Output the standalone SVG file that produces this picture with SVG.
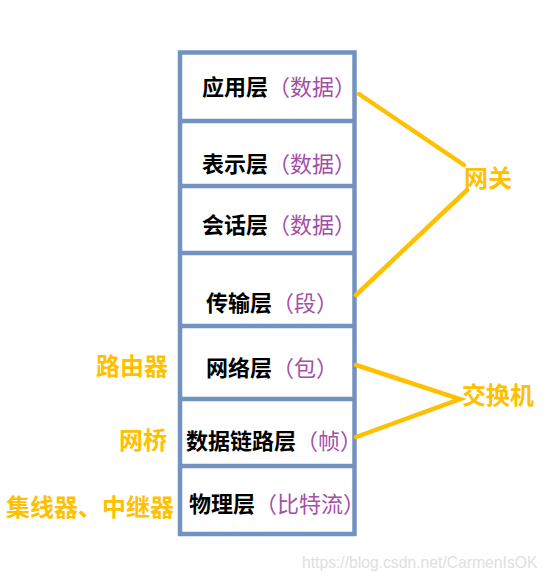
<svg xmlns="http://www.w3.org/2000/svg" width="547" height="582" viewBox="0 0 547 582">
  <style>
    .frame { fill: none; stroke: #7292c0; stroke-width: 4.5; }
    .div { stroke: #7292c0; stroke-width: 4.5; }
    .layer { font-family: "Noto Sans CJK SC", "Noto Sans", sans-serif; font-size: 22px; }
    .name { font-weight: bold; fill: #000; }
    .unit { fill: #a34fa8; font-weight: normal; }
    .dev { font-family: "Noto Sans CJK SC", "Noto Sans", sans-serif; font-size: 24px; font-weight: bold; fill: #ffc000; }
    .link { stroke: #ffc000; stroke-width: 4.5; stroke-linecap: round; fill: none; }
    .wm { font-family: "Liberation Sans", Arial, sans-serif; font-size: 15.7px; fill: #e0e0e0; }
  </style>
  <rect width="547" height="582" fill="#ffffff"/>
  <g id="stack">
    <rect class="frame" x="180" y="52.5" width="174.5" height="481.5"/>
    <line class="div" x1="180" y1="121" x2="354.5" y2="121"/>
    <line class="div" x1="180" y1="186" x2="354.5" y2="186"/>
    <line class="div" x1="180" y1="253" x2="354.5" y2="253"/>
    <line class="div" x1="180" y1="326" x2="354.5" y2="326"/>
    <line class="div" x1="180" y1="399" x2="354.5" y2="399"/>
    <line class="div" x1="180" y1="466" x2="354.5" y2="466"/>
  </g>
  <g id="application"><text class="layer" x="202" y="94.5"><tspan class="name">应用层</tspan><tspan class="unit">（数据）</tspan></text></g>
  <g id="presentation"><text class="layer" x="202" y="172"><tspan class="name">表示层</tspan><tspan class="unit">（数据）</tspan></text></g>
  <g id="session"><text class="layer" x="202" y="232.5"><tspan class="name">会话层</tspan><tspan class="unit">（数据）</tspan></text></g>
  <g id="transport"><text class="layer" x="206" y="310.5"><tspan class="name">传输层</tspan><tspan class="unit">（段）</tspan></text></g>
  <g id="network"><text class="layer" x="206" y="375.5"><tspan class="name">网络层</tspan><tspan class="unit">（包）</tspan></text></g>
  <g id="datalink"><text class="layer" x="186" y="448.5"><tspan class="name">数据链路层</tspan><tspan class="unit">（帧）</tspan></text></g>
  <g id="physical"><text class="layer" x="189" y="511.5"><tspan class="name">物理层</tspan><tspan class="unit">（比特流）</tspan></text></g>
  <g id="router"><text class="dev" x="96" y="375">路由器</text></g>
  <g id="bridge"><text class="dev" x="119" y="449">网桥</text></g>
  <g id="hub"><text class="dev" x="6" y="516">集线器、中继器</text></g>
  <g id="gateway"><text class="dev" x="464" y="187">网关</text></g>
  <g id="switch"><text class="dev" x="462" y="404">交换机</text></g>
  <g id="connectors">
    <line class="link" x1="359" y1="94" x2="464" y2="165"/>
    <line class="link" x1="467" y1="190" x2="356" y2="295"/>
    <polyline class="link" points="356,365 460,399 356,437"/>
  </g>
  <text class="wm" x="302" y="568">https://blog.csdn.net/CarmenIsOK</text>
</svg>
